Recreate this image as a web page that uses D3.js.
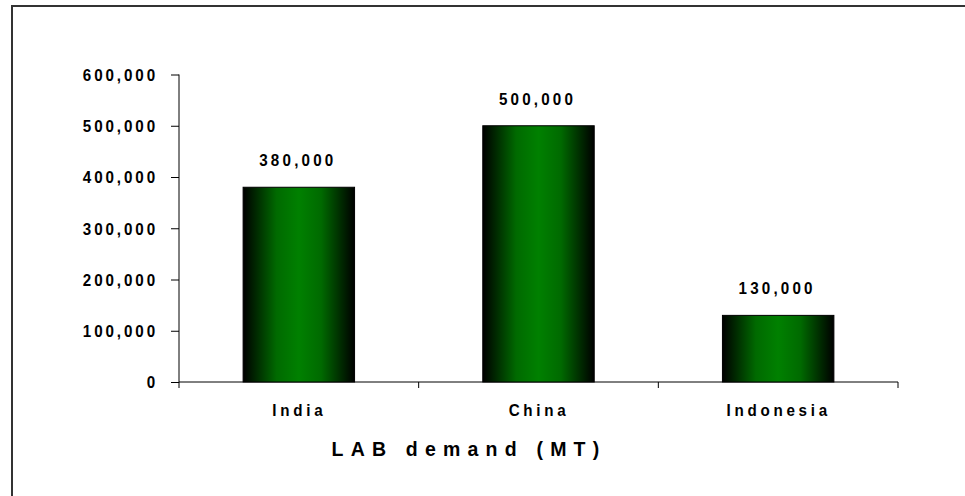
<!DOCTYPE html>
<html>
<head>
<meta charset="utf-8">
<script src="https://cdn.jsdelivr.net/npm/d3@7"></script>
<style>
  html, body { margin: 0; padding: 0; background: #fff; }
  svg text { font-family: "Liberation Sans", Arial, sans-serif; font-weight: bold; fill: #000; }
</style>
</head>
<body>
<div id="chart"></div>
<script>
// Chart data
const countries = ['India', 'China', 'Indonesia'];
const demand = [380000, 500000, 130000];
const yTicks = [0, 100000, 200000, 300000, 400000, 500000, 600000];
const chartTitle = 'LAB demand (MT)';

const width = 965;
const height = 496;
const margin = { top: 74.5, right: 67, bottom: 114, left: 179 };
const squeeze = 0.95; // labels in the original are slightly narrow

const svg = d3.select('#chart')
  .append('svg')
  .attr('width', width)
  .attr('height', height);

// Outer frame (only top and left edges visible)
svg.append('rect')
  .attr('x', 12)
  .attr('y', 6)
  .attr('width', width)
  .attr('height', height)
  .attr('fill', 'none')
  .attr('stroke', '#333')
  .attr('stroke-width', 2);

// Bar gradient
const grad = svg.append('defs').append('linearGradient')
  .attr('id', 'barGrad')
  .attr('x1', '0%').attr('x2', '100%')
  .attr('y1', '0%').attr('y2', '0%');
[[0, '#000000'], [0.12, '#002a00'], [0.3, '#006a00'], [0.5, '#008000'], [0.7, '#006a00'], [0.88, '#002a00'], [1, '#000000']]
  .forEach(([o, c]) => grad.append('stop').attr('offset', o).attr('stop-color', c));

const x = d3.scaleBand()
  .domain(countries)
  .range([margin.left, width - margin.right])
  .paddingInner(0)
  .paddingOuter(0);

const y = d3.scaleLinear()
  .domain([0, 600000])
  .range([height - margin.bottom, margin.top]);

const fmt = d3.format(',');

// Y axis
const yAxis = svg.append('g')
  .attr('transform', `translate(${margin.left},0)`)
  .call(d3.axisLeft(y).tickValues(yTicks).tickSize(8).tickPadding(0).tickFormat(fmt));
yAxis.select('.domain').attr('d', `M0,${y(600000)}V${y(0) + 6}`).attr('stroke', '#000');
yAxis.selectAll('.tick line').attr('stroke', '#000');
yAxis.selectAll('.tick text')
  .attr('x', 0)
  .attr('dy', '0.36em')
  .attr('transform', `translate(-21,0) scale(${squeeze},1)`)
  .style('font-size', '16px')
  .style('letter-spacing', '3.05px');

// X axis with ticks on category boundaries
const xAxis = svg.append('g')
  .attr('transform', `translate(0,${y(0)})`);
xAxis.append('line')
  .attr('x1', margin.left).attr('x2', width - margin.right)
  .attr('stroke', '#000');
const bounds = countries.map(c => x(c)).concat([x(countries[countries.length - 1]) + x.bandwidth()]);
xAxis.selectAll('.xtick')
  .data(bounds.slice(1))
  .enter().append('line')
  .attr('class', 'xtick')
  .attr('x1', d => d).attr('x2', d => d)
  .attr('y1', 0).attr('y2', 6)
  .attr('stroke', '#000');
xAxis.selectAll('.xlabel')
  .data(countries)
  .enter().append('text')
  .attr('class', 'xlabel')
  .attr('transform', d => `translate(${x(d) + x.bandwidth() / 2 + 0.5},34) scale(${squeeze},1)`)
  .attr('text-anchor', 'middle')
  .style('font-size', '16px')
  .style('letter-spacing', '3.9px')
  .text(d => d);

// Bars
const barW = x.bandwidth() * 0.465;
svg.append('g')
  .selectAll('rect')
  .data(demand)
  .enter().append('rect')
  .attr('x', (d, i) => x(countries[i]) + (x.bandwidth() - barW) / 2)
  .attr('y', d => y(d))
  .attr('width', barW)
  .attr('height', d => y(0) - y(d))
  .attr('fill', 'url(#barGrad)')
  .attr('stroke', '#000')
  .attr('stroke-width', 1);

// Value labels
svg.append('g')
  .selectAll('text')
  .data(demand)
  .enter().append('text')
  .attr('transform', (d, i) => `translate(${x(countries[i]) + x.bandwidth() / 2 - 1},${y(d) - 21}) scale(${squeeze},1)`)
  .attr('text-anchor', 'middle')
  .style('font-size', '16px')
  .style('letter-spacing', '3.35px')
  .text(d => fmt(d));

// Title
svg.append('text')
  .attr('x', 469)
  .attr('y', 456)
  .attr('text-anchor', 'middle')
  .style('font-size', '19.5px')
  .style('letter-spacing', '7.2px')
  .text(chartTitle);
</script>
</body>
</html>
